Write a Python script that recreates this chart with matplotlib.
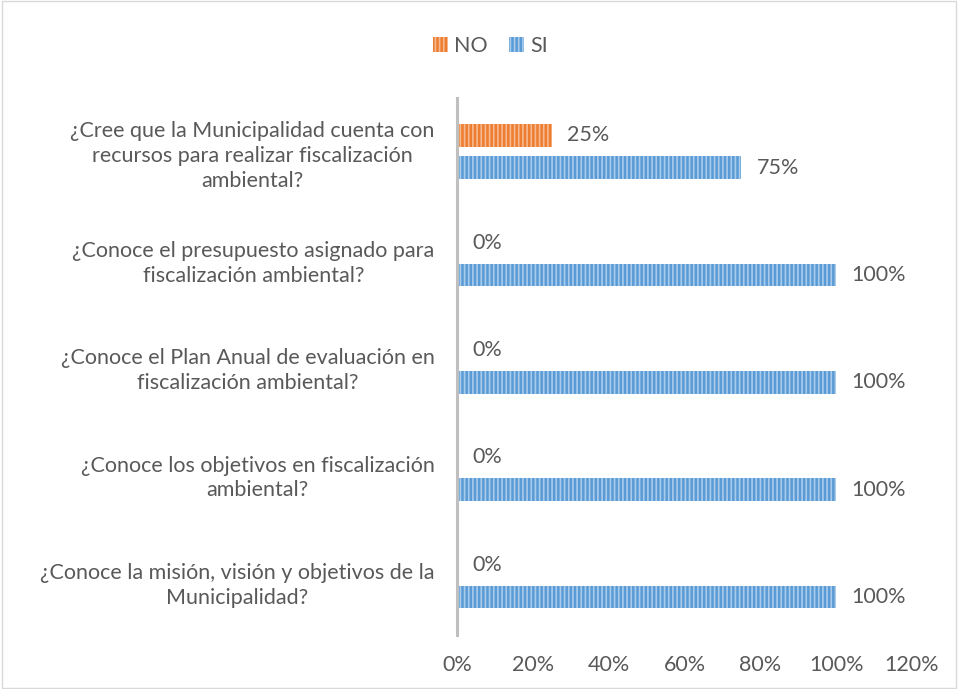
import matplotlib.pyplot as plt
import numpy as np
from matplotlib.patches import Rectangle
from matplotlib.ticker import FuncFormatter

questions = [
    "¿Cree que la Municipalidad cuenta con\nrecursos para realizar fiscalización\nambiental?",
    "¿Conoce el presupuesto asignado para\nfiscalización ambiental?",
    "¿Conoce el Plan Anual de evaluación en\nfiscalización ambiental?",
    "¿Conoce los objetivos en fiscalización\nambiental?",
    "¿Conoce la misión, visión y objetivos de la\nMunicipalidad?",
]
no_vals = [0.25, 0.0, 0.0, 0.0, 0.0]
si_vals = [0.75, 1.0, 1.0, 1.0, 1.0]
x_ticks = [0, 0.2, 0.4, 0.6, 0.8, 1.0, 1.2]

TEXT = "#595959"
ORANGE = "#ED7D31"
BLUE = "#5B9BD5"
FS = 15.5

plt.rcParams["font.family"] = ["Lato", "DejaVu Sans"]
plt.rcParams["hatch.linewidth"] = 1.2

fig = plt.figure(figsize=(9.58, 6.89), dpi=100)
ax = fig.add_axes([0.477, 0.079, 0.475, 0.779])

y = np.arange(len(questions))
h = 0.21
off = 0.15
b_no = ax.barh(y - off, no_vals, height=h, color=ORANGE, edgecolor="#f7b98f",
               hatch="||||", linewidth=0, label="NO")
b_si = ax.barh(y + off, si_vals, height=h, color=BLUE, edgecolor="#a9cbec",
               hatch="||||", linewidth=0, label="SI")

for bars, vals in ((b_no, no_vals), (b_si, si_vals)):
    for bar, v in zip(bars, vals):
        ax.text(v + 0.04, bar.get_y() + bar.get_height() / 2, f"{v * 100:.0f}%",
                va="center", ha="left", fontsize=FS, color=TEXT)

ax.set_ylim(len(questions) - 0.5, -0.5)
ax.set_xlim(0, 1.2)
ax.set_xticks(x_ticks)
ax.xaxis.set_major_formatter(FuncFormatter(lambda v, p: f"{v * 100:.0f}%"))
ax.set_yticks(y)
ax.set_yticklabels(questions)
for lab in ax.get_yticklabels():
    lab.set_multialignment("center")
    lab.set_linespacing(1.3)

ax.tick_params(axis="both", length=0, labelsize=FS, labelcolor=TEXT)
ax.tick_params(axis="y", pad=16)
ax.tick_params(axis="x", pad=15)
for s in ("top", "right", "bottom"):
    ax.spines[s].set_visible(False)
ax.spines["left"].set_color("#BFBFBF")
ax.spines["left"].set_linewidth(2.2)

fig.legend(handles=[b_no, b_si], loc="center", bbox_to_anchor=(0.512, 0.933),
           ncol=2, frameon=False, fontsize=FS, labelcolor=TEXT,
           handlelength=0.7, handleheight=0.7, handletextpad=0.3, columnspacing=1.0)

fig.patches.append(Rectangle((0.002, 0.002), 0.996, 0.996, transform=fig.transFigure,
                             fill=False, edgecolor="#D9D9D9", linewidth=1))

fig.savefig("out.png", dpi=100)
